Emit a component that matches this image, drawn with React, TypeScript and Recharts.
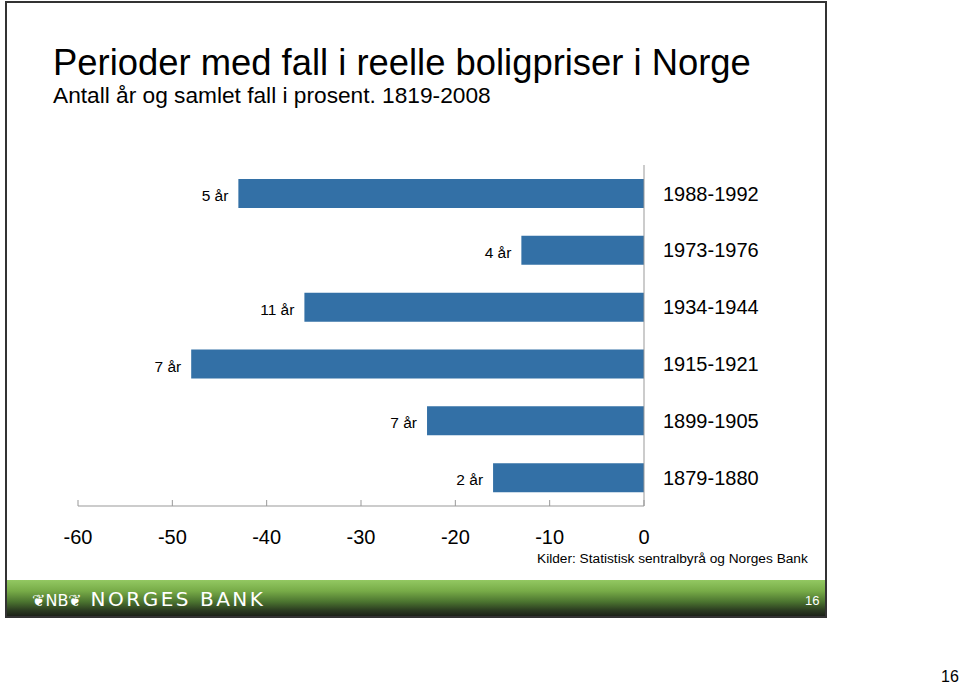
import React from 'react';
import { BarChart, Bar, XAxis, YAxis, LabelList } from 'recharts';

const periods = ['1988-1992', '1973-1976', '1934-1944', '1915-1921', '1899-1905', '1879-1880'];
const declines = [-43, -13, -36, -48, -23, -16];
const durations = ['5 år', '4 år', '11 år', '7 år', '7 år', '2 år'];
const xTicks = [-60, -50, -40, -30, -20, -10, 0];

const title = 'Perioder med fall i reelle boligpriser i Norge';
const subtitle = 'Antall år og samlet fall i prosent. 1819-2008';
const source = 'Kilder: Statistisk sentralbyrå og Norges Bank';

const data = periods.map((p, i) => ({ period: p, value: declines[i], label: durations[i] }));

const FONT = '"Liberation Sans", Arial, Helvetica, sans-serif';

const DurationLabel = (props: any) => {
  const { x, y, width, height, value } = props;
  const left = Math.min(Number(x), Number(x) + Number(width));
  return (
    <text
      x={left - 10}
      y={Number(y) + Number(height) / 2 + 2}
      textAnchor="end"
      dominantBaseline="central"
      fontSize={15.5}
      fontFamily={FONT}
      fill="#000"
    >
      {value}
    </text>
  );
};

export default function App() {
  return (
    <div style={{ position: 'absolute', left: 0, top: 0, width: 960, height: 685, background: '#fff', fontFamily: FONT }}>
      {/* slide frame */}
      <div
        style={{
          position: 'absolute',
          left: 5,
          top: 1,
          width: 818,
          height: 613,
          border: '2px solid #333',
          background: '#fff',
        }}
      />
      <div style={{ position: 'absolute', left: 53, top: 41, fontSize: 36.4, color: '#000', whiteSpace: 'nowrap', lineHeight: '44px' }}>
        {title}
      </div>
      <div style={{ position: 'absolute', left: 53, top: 81, fontSize: 22.7, color: '#000', whiteSpace: 'nowrap', lineHeight: '28px' }}>
        {subtitle}
      </div>
      <div style={{ position: 'absolute', left: 0, top: 0 }}>
        <BarChart
          width={830}
          height={560}
          data={data}
          layout="vertical"
          margin={{ top: 165, right: 36, bottom: 14, left: 78 }}
          barSize={29}
        >
          <XAxis
            type="number"
            domain={[-60, 0]}
            ticks={xTicks}
            height={40}
            stroke="#999"
            tickSize={-6}
            tickMargin={30}
            tick={{ fontSize: 20, fill: '#000', fontFamily: FONT }}
            tickLine={{ stroke: '#999' }}
            axisLine={{ stroke: '#999' }}
            allowDataOverflow
          />
          <YAxis
            type="category"
            dataKey="period"
            orientation="right"
            width={150}
            tickLine={false}
            tickMargin={13}
            stroke="#999"
            axisLine={{ stroke: '#999' }}
            tick={{ fontSize: 20, fill: '#000', fontFamily: FONT, textAnchor: 'start' }}
          />
          <Bar dataKey="value" fill="#3370A6" isAnimationActive={false}>
            <LabelList dataKey="label" content={<DurationLabel />} />
          </Bar>
        </BarChart>
      </div>
      <div style={{ position: 'absolute', left: 537, top: 550, fontSize: 13.7, color: '#000', whiteSpace: 'nowrap', lineHeight: '18px' }}>
        {source}
      </div>
      {/* footer band */}
      <div
        style={{
          position: 'absolute',
          left: 7,
          top: 580,
          width: 818,
          height: 36,
          background: 'linear-gradient(to bottom, #93c862 0%, #78ac48 30%, #4c7530 60%, #2a3a20 85%, #1c2118 100%)',
        }}
      />
      <div
        style={{
          position: 'absolute',
          left: 32,
          top: 587,
          fontSize: 20,
          color: '#fff',
          whiteSpace: 'nowrap',
          letterSpacing: 2.5,
          lineHeight: '24px',
          fontFamily: '"DejaVu Sans", sans-serif',
        }}
      >
        <span style={{ fontSize: 16, letterSpacing: 0 }}>{'❦NB❦'}</span> NORGES BANK
      </div>
      <div style={{ position: 'absolute', left: 805, top: 593, fontSize: 13, color: '#fff', lineHeight: '16px' }}>16</div>
      <div style={{ position: 'absolute', left: 941, top: 668, fontSize: 16, color: '#000', lineHeight: '18px' }}>16</div>
    </div>
  );
}
